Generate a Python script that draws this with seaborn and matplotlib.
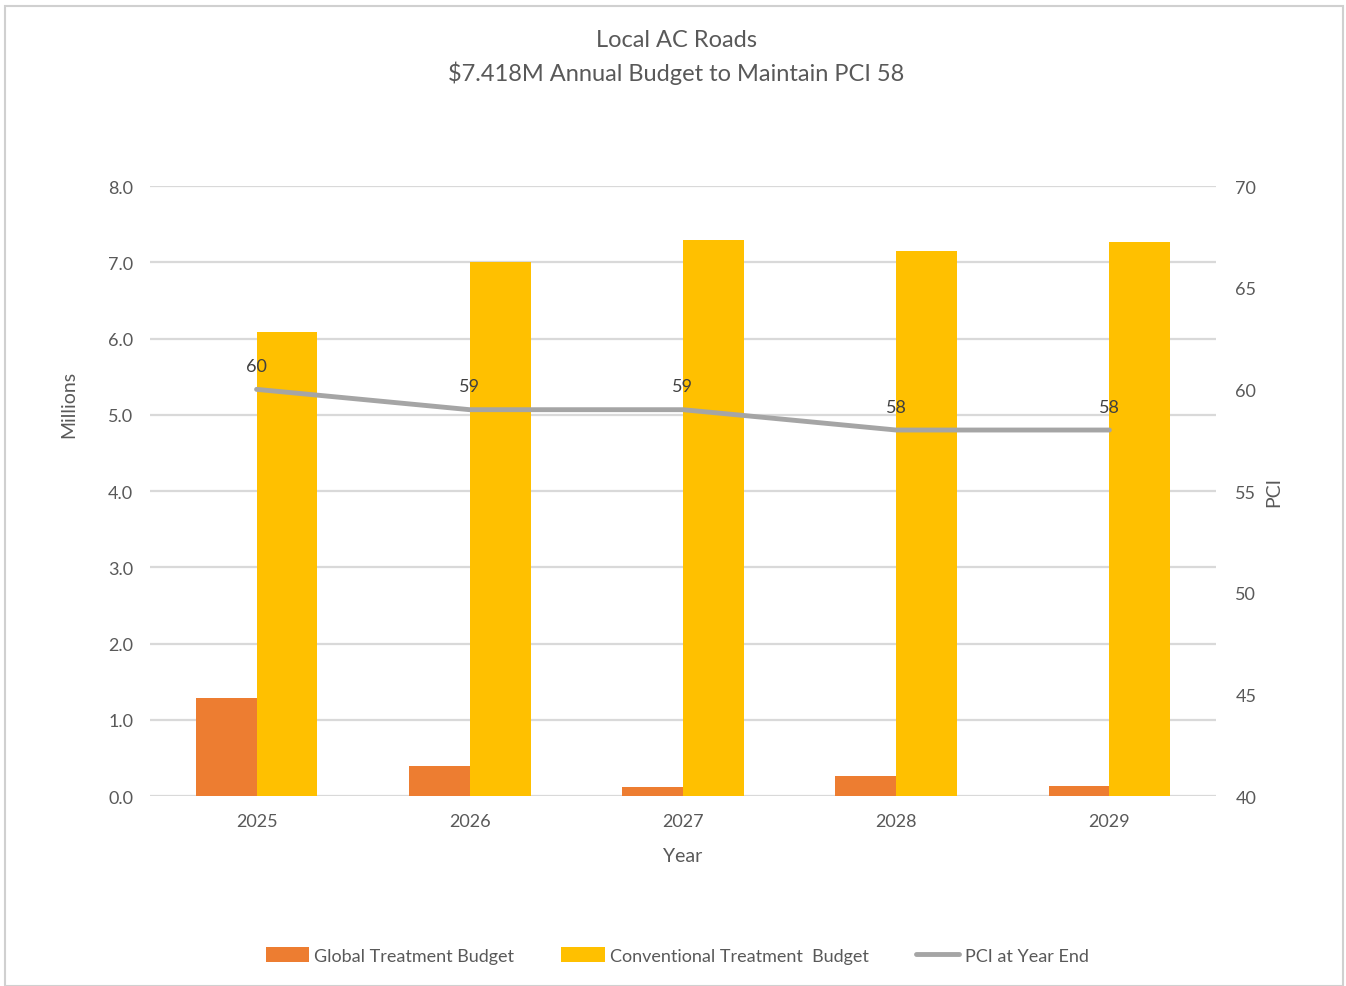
import matplotlib
matplotlib.use("Agg")
import matplotlib.pyplot as plt
from matplotlib.patches import Rectangle
from matplotlib.lines import Line2D
import seaborn as sns
import pandas as pd

years = ["2025", "2026", "2027", "2028", "2029"]
global_budget = [1.28, 0.40, 0.12, 0.26, 0.13]
conventional_budget = [6.09, 7.01, 7.29, 7.15, 7.27]
pci_year_end = [60, 59, 59, 58, 58]

series_names = ["Global Treatment Budget", "Conventional Treatment  Budget"]
line_name = "PCI at Year End"

sns.set_theme(style="white")
plt.rcParams["font.family"] = ["Lato", "DejaVu Sans"]

text_color = "#595959"
orange = "#ED7D31"
gold = "#FFC000"
gray_line = "#A5A5A5"
grid_color = "#D9D9D9"

df = pd.DataFrame({
    "Year": years * 2,
    "Budget": global_budget + conventional_budget,
    "Series": [series_names[0]] * len(years) + [series_names[1]] * len(years),
})

fig = plt.figure(figsize=(13.46, 9.87), dpi=100)
ax = fig.add_axes([0.1114, 0.1925, 0.7920, 0.6180])

sns.barplot(data=df, x="Year", y="Budget", hue="Series", order=years,
            hue_order=series_names, palette=[orange, gold], width=0.57,
            saturation=1, linewidth=0, ax=ax, legend=False, zorder=3)

ax.set_ylim(0, 8)
ax.set_xlim(-0.5, len(years) - 0.5)
ax.set_yticks([i for i in range(9)])
ax.set_yticklabels([f"{i:.1f}" for i in range(9)])
ax.yaxis.grid(True, color=grid_color, linewidth=1.6, zorder=0)
ax.set_axisbelow(True)
for s in ax.spines.values():
    s.set_visible(False)
ax.tick_params(axis="both", length=0, labelsize=13, colors=text_color, pad=12)
ax.set_xlabel("Year", fontsize=14, color=text_color, labelpad=13)
ax.set_ylabel("Millions", fontsize=14, color=text_color, labelpad=22, y=0.643)

ax2 = ax.twinx()
pci_df = pd.DataFrame({"x": list(range(len(years))), "PCI": pci_year_end})
sns.lineplot(data=pci_df, x="x", y="PCI", color=gray_line, linewidth=3.5,
             ax=ax2, zorder=4)
ax2.set_ylim(40, 70)
ax2.set_yticks(list(range(40, 71, 5)))
ax2.set_xlim(-0.5, len(years) - 0.5)
for s in ax2.spines.values():
    s.set_visible(False)
ax2.tick_params(axis="y", length=0, labelsize=13, colors=text_color, pad=14)
ax2.set_ylabel("PCI", fontsize=14, color=text_color, labelpad=6)
ax2.set_xlabel("")
for i, v in enumerate(pci_year_end):
    ax2.annotate(f"{v}", (i, v), xytext=(0, 11), textcoords="offset points",
                 ha="center", va="bottom", fontsize=13, color="#404040")

fig.text(0.5025, 0.959, "Local AC Roads", ha="center", va="center",
         fontsize=17, color=text_color)
fig.text(0.5025, 0.926, "$7.418M Annual Budget to Maintain PCI 58",
         ha="center", va="center", fontsize=17, color=text_color)

handles = [
    Rectangle((0, 0), 1, 1, facecolor=orange, edgecolor="none"),
    Rectangle((0, 0), 1, 1, facecolor=gold, edgecolor="none"),
    Line2D([0], [0], color=gray_line, linewidth=3.5),
]
fig.legend(handles, series_names + [line_name], loc="center",
           bbox_to_anchor=(0.503, 0.031), ncol=3, frameon=False,
           fontsize=13, labelcolor=text_color, handlelength=2.4,
           handleheight=0.9, handletextpad=0.3, columnspacing=2.6)

fig.add_artist(Rectangle((0.004, 0.0), 0.994, 0.993, transform=fig.transFigure,
                         fill=False, edgecolor="#D0D0D0", linewidth=1.5))

fig.savefig("out.png", dpi=100, facecolor="white")
